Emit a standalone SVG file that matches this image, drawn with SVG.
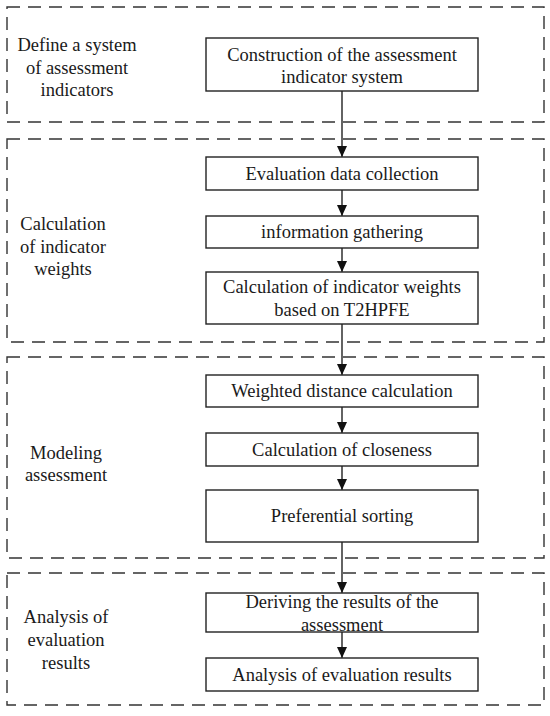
<svg xmlns="http://www.w3.org/2000/svg" width="550" height="716" viewBox="0 0 550 716">
<style>
.grp{fill:none;stroke:#333;stroke-width:1.4;stroke-dasharray:13 8}
.box{fill:#fff;stroke:#222;stroke-width:1.4}
.t{font-family:"Liberation Serif","Times New Roman",serif;font-size:18.5px;fill:#1a1a1a;text-anchor:middle}
.c{stroke:#222;stroke-width:1.4;fill:none}
</style>
<defs>
<marker id="ah" markerWidth="10" markerHeight="11" refX="11" refY="5" orient="auto" markerUnits="userSpaceOnUse">
<path d="M0,0 L11,5 L0,10 Z" fill="#111"/>
</marker>
</defs>
<rect width="550" height="716" fill="#fff"/>
<g id="groups">
<rect class="grp" x="7" y="7" width="537" height="115"/>
<rect class="grp" x="7" y="139" width="537" height="203"/>
<rect class="grp" x="7" y="357" width="537" height="201"/>
<rect class="grp" x="7" y="573" width="537" height="132"/>
</g>
<g id="labels">
<text class="t" x="77" y="51">Define a system</text>
<text class="t" x="77" y="74">of assessment</text>
<text class="t" x="77" y="96">indicators</text>
<text class="t" x="63" y="230">Calculation</text>
<text class="t" x="63" y="252.5">of indicator</text>
<text class="t" x="63" y="275">weights</text>
<text class="t" x="66" y="459">Modeling</text>
<text class="t" x="66" y="481">assessment</text>
<text class="t" x="66" y="623">Analysis of</text>
<text class="t" x="66" y="646">evaluation</text>
<text class="t" x="66" y="669">results</text>
</g>
<g id="n1"><rect class="box" x="206" y="38" width="272" height="53"/>
<text class="t" x="342" y="60.5">Construction of the assessment</text>
<text class="t" x="342" y="82.5">indicator system</text></g>
<g id="n2"><rect class="box" x="206" y="157" width="272" height="33"/>
<text class="t" x="342" y="179.5">Evaluation data collection</text></g>
<g id="n3"><rect class="box" x="206" y="216" width="272" height="32"/>
<text class="t" x="342" y="238">information gathering</text></g>
<g id="n4"><rect class="box" x="206" y="272" width="272" height="52"/>
<text class="t" x="342" y="293">Calculation of indicator weights</text>
<text class="t" x="342" y="316">based on T2HPFE</text></g>
<g id="n5"><rect class="box" x="206" y="375" width="272" height="32"/>
<text class="t" x="342" y="397">Weighted distance calculation</text></g>
<g id="n6"><rect class="box" x="206" y="433" width="272" height="33"/>
<text class="t" x="342" y="455.5">Calculation of closeness</text></g>
<g id="n7"><rect class="box" x="206" y="490" width="272" height="52"/>
<text class="t" x="342" y="522">Preferential sorting</text></g>
<g id="n8"><rect class="box" x="206" y="593" width="272" height="39"/>
<text class="t" x="342" y="608">Deriving the results of the</text>
<text class="t" x="342" y="631">assessment</text></g>
<g id="n9"><rect class="box" x="206" y="658" width="272" height="33"/>
<text class="t" x="342" y="680.5">Analysis of evaluation results</text></g>
<g id="connectors">
<line class="c" x1="342" y1="91" x2="342" y2="157" marker-end="url(#ah)"/>
<line class="c" x1="342" y1="190" x2="342" y2="216" marker-end="url(#ah)"/>
<line class="c" x1="342" y1="248" x2="342" y2="272" marker-end="url(#ah)"/>
<line class="c" x1="342" y1="324" x2="342" y2="375" marker-end="url(#ah)"/>
<line class="c" x1="342" y1="407" x2="342" y2="433" marker-end="url(#ah)"/>
<line class="c" x1="342" y1="466" x2="342" y2="490" marker-end="url(#ah)"/>
<line class="c" x1="342" y1="542" x2="342" y2="593" marker-end="url(#ah)"/>
<line class="c" x1="342" y1="632" x2="342" y2="658" marker-end="url(#ah)"/>
</g>
</svg>
